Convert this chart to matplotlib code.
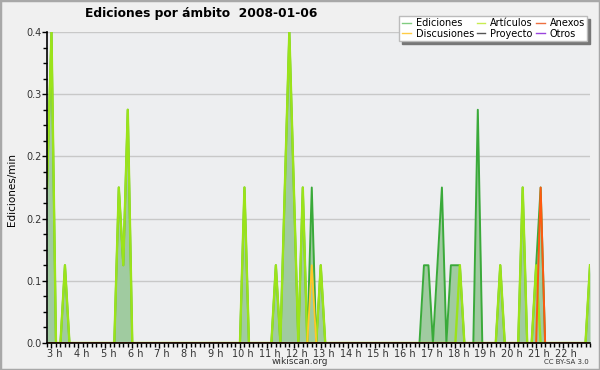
#Ediciones por ambito, intervalos de 10 min
import numpy as np; import matplotlib.pyplot as plt
from matplotlib.patches import Rectangle
from matplotlib.ticker import MultipleLocator, FixedLocator, FuncFormatter
from matplotlib.transforms import ScaledTranslation

horas = np.arange(2*60+50, 23*60+1, 10)/60  # 2:50 ... 23:00
# valores no nulos (Ediciones/min)
ediciones = {'02:50':0.2,'03:00':0.4,'03:30':0.1,'05:30':0.2,'05:40':0.1,'05:50':0.3,
             '10:10':0.2,'11:20':0.1,'11:40':0.2,'11:50':0.4,'12:00':0.2,'12:20':0.2,
             '12:40':0.2,'13:00':0.1,'16:50':0.1,'17:00':0.1,'17:20':0.1,'17:30':0.2,
             '17:50':0.1,'18:00':0.1,'18:10':0.1,'18:50':0.3,'19:40':0.1,'20:30':0.2,
             '21:00':0.1,'21:10':0.2,'23:00':0.1}
articulos = {'02:50':0.2,'03:00':0.4,'03:30':0.1,'05:30':0.2,'05:40':0.1,'05:50':0.3,
             '10:10':0.2,'11:20':0.1,'11:40':0.2,'11:50':0.4,'12:00':0.2,'12:20':0.2,
             '13:00':0.1,'18:10':0.1,'19:40':0.1,'20:30':0.2,'21:00':0.1,'23:00':0.1}
discusiones = {'12:40':0.1}
anexos = {'21:10':0.2}
proyecto = {}
otros = {}

def serie(d):
    v = np.zeros(len(horas))
    for hm, val in d.items():
        h, m = map(int, hm.split(':'))
        v[round((h*60+m-170)/10)] = val
    return v

fig = plt.figure(figsize=(6, 3.7), dpi=100, facecolor='#f0f0f0')
ax = fig.add_axes([47/600, 1-343/370, 543/600, 311/370], facecolor='#edeef0')

ed = serie(ediciones)
ax.fill_between(horas, ed, color='#a0cba0', lw=0, zorder=1)
ax.plot(horas, ed, color='#3aaa3a', lw=1.4, zorder=2)
ax.plot(horas, serie(articulos), color='#9be31a', lw=1.7, zorder=3)
ax.plot(horas, serie(discusiones), color='#ffc828', lw=1.3, zorder=3)
ax.plot(horas, serie(proyecto), color='#555555', lw=1.0, zorder=1.5)
ax.plot(horas, serie(otros), color='#9a44dd', lw=1.0, zorder=1.5)
ax.plot(horas, serie(anexos), color='#ff5a10', lw=1.4, zorder=4)

ax.set_xlim(horas[0], horas[-1]); ax.set_ylim(0, 0.4)
ax.xaxis.set_major_locator(FixedLocator(range(3, 23)))
ax.xaxis.set_major_formatter(FuncFormatter(lambda v, p: f'{int(round(v))} h'))
ax.xaxis.set_minor_locator(MultipleLocator(1/6))
ax.yaxis.set_major_locator(FixedLocator(np.arange(0, 0.41, 0.08)))
ax.yaxis.set_major_formatter(FuncFormatter(lambda v, p: f'{v:.1f}'))
ax.yaxis.set_minor_locator(MultipleLocator(0.02))
ax.tick_params(which='major', length=3.5, width=1, labelsize=7, labelcolor='#333333', pad=0.5)
ax.tick_params(which='minor', length=3, width=1)
dx = ScaledTranslation(3/100, 0, fig.dpi_scale_trans)
for t in ax.get_xticklabels(): t.set_transform(t.get_transform() + dx)
for s in ['top', 'right']: ax.spines[s].set_visible(False)
for s in ['left', 'bottom']:
    ax.spines[s].set_linewidth(1.2); ax.spines[s].set_zorder(10)
ax.grid(axis='y', color='#c8c8c8', lw=1)
ax.set_axisbelow(True)

hd = [plt.Line2D([], [], color=c, lw=1) for c in ['#80cc80', '#ffcc44', '#c8ec50', '#555555', '#ee7040', '#9a44dd']]
lg = fig.legend(hd, ['Ediciones', 'Discusiones', 'Artículos', 'Proyecto', 'Anexos', 'Otros'],
                ncol=3, loc='upper right', bbox_to_anchor=(592/600, 1-11/370), fontsize=7,
                handlelength=0.9, handletextpad=0.5, columnspacing=0.3, labelspacing=0.05,
                borderpad=0.25, fancybox=False, edgecolor='#bbbbbb', framealpha=1,
                shadow={'color': '#777777', 'alpha': 1})

fig.text(85/600, 1-14/370, 'Ediciones por ámbito  2008-01-06', fontsize=8.8, fontweight='bold', va='center')
fig.text(12/600, 1-190/370, 'Ediciones/min', rotation=90, fontsize=7.5, ha='center', va='center')
fig.text(300/600, 1-362/370, 'wikiscan.org', fontsize=6.5, ha='center', va='center', color='#333333')
fig.text(589/600, 1-362/370, 'CC BY-SA 3.0', fontsize=5, ha='right', va='center', color='#333333')
fig.add_artist(Rectangle((0, 0), 1, 1, transform=fig.transFigure, fill=False, edgecolor='#a8a8a8', lw=2.5))
plt.savefig('out.png', dpi=100, facecolor=fig.get_facecolor())
